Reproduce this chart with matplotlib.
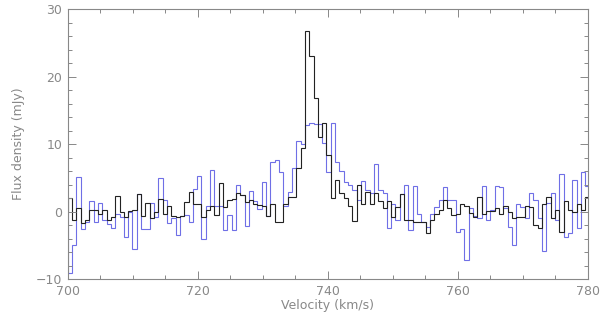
import numpy as np
import matplotlib
matplotlib.use("Agg")
import matplotlib.pyplot as plt
from matplotlib.ticker import MultipleLocator

# spectral axis (km/s)
v_start = 700.0
dv = 0.663

# flux density (mJy) per channel
black_flux = [
    2.0, -1.3, 0.6, -1.7, -1.3, 0.2, 0.3, -0.4, 0.3, -1.2, -0.8, 2.3, -0.1, -0.8, 0.1, 0.3,
    2.6, -0.7, 1.3, -0.9, -0.1, 1.8, -0.3, 0.8, -0.6, -0.8, -0.6, 1.4, 2.9, 1.2, 1.1,
    -0.8, 0.2, 0.8, -0.5, 4.3, 0.7, 1.7, 1.9, 2.7,
    2.4, 1.4, 1.7, 1.2, 1.0, 0.8, -0.6, 1.2, -1.5, -1.5, 1.2, 2.2, 2.2, 6.4, 9.4, 26.7,
    23.0, 16.8, 11.1, 13.1,
    8.4, 2.0,
    4.7, 2.7, 2.0, 0.8, -1.4, 3.9, 1.1, 2.9, 1.2, 2.7, 1.5, 0.5, 1.5, -0.8, 0.7, 2.6,
    -1.3, -1.3, -1.6, -1.5, -1.5, -3.2, -1.3, -0.3, 0.2, 1.7, 0.5,
    -0.5, -0.3, 1.1, 0.8, -0.2, -0.8, 2.2, -0.3, 0.1, 0.1, 0.5, -0.4, 0.8, 0.0, -1.0, -0.8,
    -0.8, 0.8, 0.7, -2.0, -2.5, 1.2, 2.2, -1.0, 0.2, -3.0, 1.5, 0.2, 0.0, 1.1, 0.3, 2.2,
]
blue_flux = [
    -9.1, -5.0, 5.2, -2.6, -1.6, 1.5, -1.5, 1.3, -1.3, -1.9, -2.5, -0.3, -0.8, -3.8, 0.0, -5.5,
    2.6, -2.6, -2.6, 1.3, -0.8, 5.0, 1.7, -1.7, -0.9, -3.5, -0.6, -0.5, -1.6, 3.4, 5.3,
    -4.1, 0.8, 6.1, 0.9, 0.8, -2.7, -0.5, -2.7, 3.9,
    2.5, -2.1, 3.0, 1.6, 0.4, 4.4, -0.6, 7.3, 7.7, 5.8, 0.8, 2.9, 6.4, 10.5, 10.0, 12.9,
    13.2, 13.0, 13.0, 10.1,
    5.8, 13.1,
    7.3, 6.0, 4.4, 3.9, 3.2, 1.7, 4.5, 3.2, 2.7, 7.1, 3.2, 2.7, -2.4, 1.1, -1.3, 2.6,
    3.9, -2.7, 3.8, -0.3, -1.5, -2.3, -0.3, 0.7, 1.7, 3.7, 1.7,
    1.7, -3.0, -2.6, -7.2, 0.5, -0.7, -1.0, 3.8, -1.3, 0.2, 3.8, 3.7, 0.5, -2.3, -4.9, 1.1,
    0.7, -1.0, 2.8, 1.7, -1.0, -5.9, 1.3, 2.7, -1.3, 5.6, -3.7, -3.2, 4.7, -2.5, 5.8, 3.8,
]

GREY = "#888888"


def main():
    edges_b = v_start + dv * np.arange(len(black_flux) + 1)
    edges_u = v_start + dv * np.arange(len(blue_flux) + 1)

    fig = plt.figure(figsize=(6.0, 3.15), dpi=100)
    ax = fig.add_axes([0.113, 0.114, 0.867, 0.857])

    ax.stairs(blue_flux, edges_u, color="#6f6fe6", lw=0.8)
    ax.stairs(black_flux, edges_b, color="#222222", lw=0.8)

    ax.set_xlim(700, 780)
    ax.set_ylim(-10, 30)
    ax.xaxis.set_major_locator(MultipleLocator(20))
    ax.xaxis.set_minor_locator(MultipleLocator(5))
    ax.yaxis.set_major_locator(MultipleLocator(10))
    ax.yaxis.set_minor_locator(MultipleLocator(2))

    for s in ax.spines.values():
        s.set_color(GREY)
        s.set_linewidth(0.8)
    ax.tick_params(which="both", direction="in", top=True, right=True,
                   colors=GREY, labelcolor=GREY, labelsize=9, width=0.7)
    ax.tick_params(which="major", length=6, pad=4)
    ax.tick_params(which="minor", length=3)

    ax.set_xlabel("Velocity (km/s)", color=GREY, fontsize=9, labelpad=1)
    ax.set_ylabel("Flux density (mJy)", color=GREY, fontsize=9, labelpad=8)

    fig.savefig("out.png", dpi=100)


if __name__ == "__main__":
    main()
